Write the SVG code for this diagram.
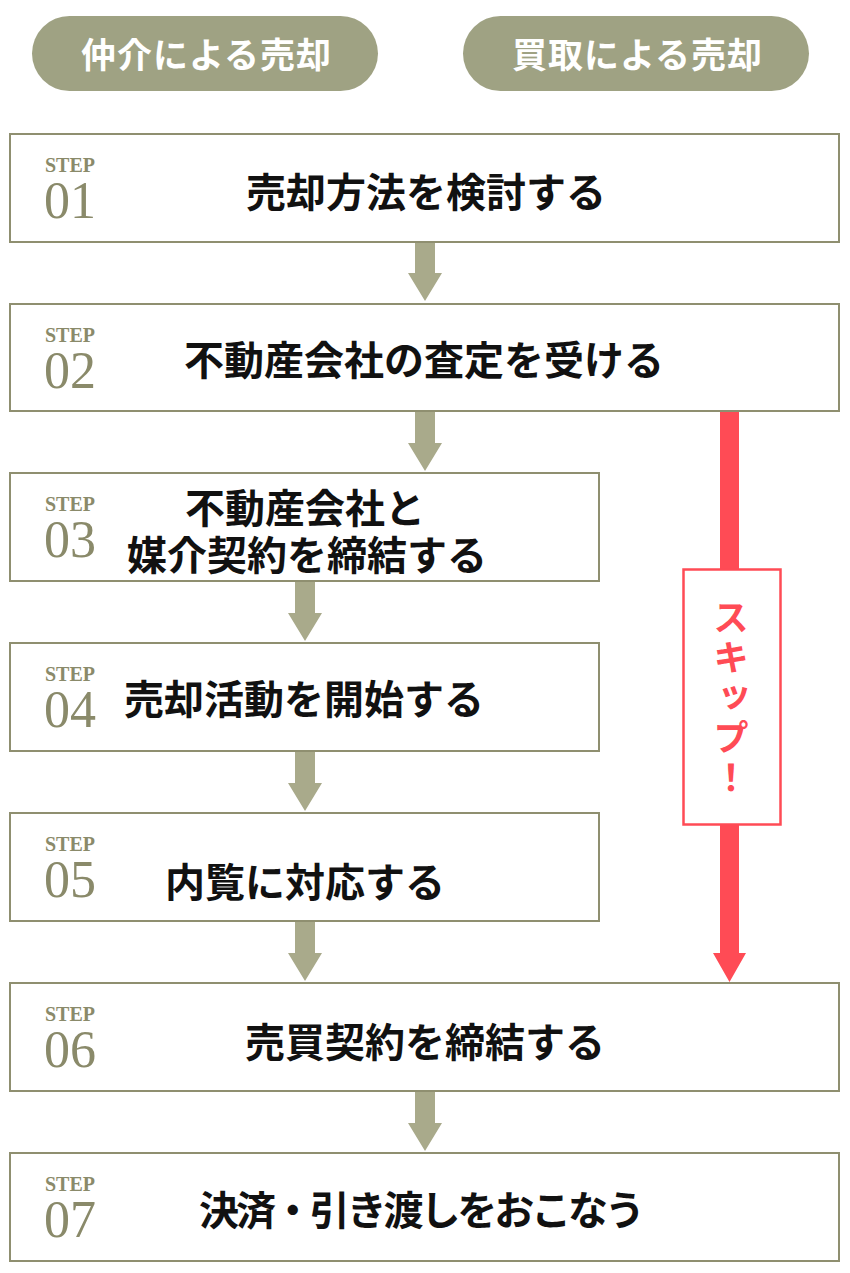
<svg xmlns="http://www.w3.org/2000/svg" width="850" height="1273" viewBox="0 0 850 1273">
<style>
.pill{fill:#9fa283}
.pt{font-family:"Noto Sans CJK JP","Noto Sans",sans-serif;font-weight:700;font-size:35px;fill:#fff;text-anchor:middle}
.box{fill:#fff;stroke:#8f8f70;stroke-width:2}
.st{font-family:"Liberation Serif",serif;font-weight:700;font-size:20px;fill:#8a8a6a;text-anchor:middle}
.num{font-family:"Liberation Serif",serif;font-size:52px;fill:#8a8a6a;text-anchor:middle}
.t{font-family:"Noto Sans CJK JP","Noto Sans",sans-serif;font-weight:700;font-size:40px;fill:#111;text-anchor:middle}
.arr{fill:#a9aa8b}
.red{fill:#ff4b55}
.skip{font-family:"Noto Sans CJK JP","Noto Sans",sans-serif;font-weight:700;font-size:36px;fill:#ff4b55;letter-spacing:4px;text-anchor:middle;writing-mode:vertical-rl}
</style>
<g id="tab-chukai"><rect class="pill" x="32" y="16" width="346" height="75" rx="37.5"/><text class="pt" x="206" y="68" textLength="250" lengthAdjust="spacing">仲介による売却</text></g>
<g id="tab-kaitori"><rect class="pill" x="463" y="16" width="346" height="75" rx="37.5"/><text class="pt" x="637" y="68" textLength="250" lengthAdjust="spacing">買取による売却</text></g>
<g id="connectors">
<path class="arr" d="M415 242H435V273H442L425 301L408 273H415Z"/>
<path class="arr" d="M415 412H435V443H442L425 471L408 443H415Z"/>
<path class="arr" d="M295 582H315V613H322L305 641L288 613H295Z"/>
<path class="arr" d="M295 752H315V783H322L305 811L288 783H295Z"/>
<path class="arr" d="M295 922H315V953H322L305 981L288 953H295Z"/>
<path class="arr" d="M415 1092H435V1123H442L425 1151L408 1123H415Z"/>
<path class="red" d="M720 412H739V953H746L729.5 982L713 953H720Z"/>
</g>
<g id="skip"><rect x="683.5" y="569.5" width="97" height="255" fill="#fff" stroke="#ff4b55" stroke-width="2.5"/><text class="skip" x="731" y="699">スキップ！</text></g>
<g id="step01"><rect class="box" x="10" y="134" width="829" height="108"/><text class="st" x="70" y="172">STEP</text><text class="num" x="70" y="218">01</text><text class="t" x="426" y="207">売却方法を検討する</text></g>
<g id="step02"><rect class="box" x="10" y="304" width="829" height="107"/><text class="st" x="70" y="342">STEP</text><text class="num" x="70" y="388">02</text><text class="t" x="424" y="375">不動産会社の査定を受ける</text></g>
<g id="step03"><rect class="box" x="10" y="473" width="589" height="108"/><text class="st" x="70" y="511">STEP</text><text class="num" x="70" y="557">03</text><text class="t" x="305" y="523">不動産会社と</text><text class="t" x="307" y="570">媒介契約を締結する</text></g>
<g id="step04"><rect class="box" x="10" y="643" width="589" height="108"/><text class="st" x="70" y="681">STEP</text><text class="num" x="70" y="727">04</text><text class="t" x="304" y="714">売却活動を開始する</text></g>
<g id="step05"><rect class="box" x="10" y="813" width="589" height="108"/><text class="st" x="70" y="851">STEP</text><text class="num" x="70" y="897">05</text><text class="t" x="305" y="897">内覧に対応する</text></g>
<g id="step06"><rect class="box" x="10" y="983" width="829" height="108"/><text class="st" x="70" y="1021">STEP</text><text class="num" x="70" y="1067">06</text><text class="t" x="425" y="1057">売買契約を締結する</text></g>
<g id="step07"><rect class="box" x="10" y="1153" width="829" height="108"/><text class="st" x="70" y="1191">STEP</text><text class="num" x="70" y="1237">07</text><text class="t" x="422" y="1225" textLength="446" lengthAdjust="spacing">決済・引き渡しをおこなう</text></g>
</svg>
